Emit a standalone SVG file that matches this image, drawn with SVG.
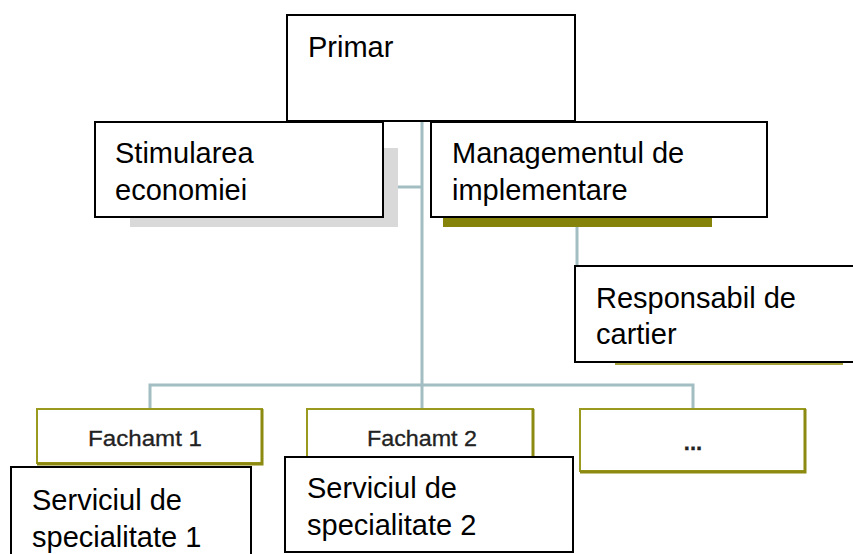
<svg xmlns="http://www.w3.org/2000/svg" width="853" height="554" viewBox="0 0 853 554">
<style>
.box{fill:#fff;stroke:#000;stroke-width:2}
.fbox{fill:#fff;stroke:#9a9a1e;stroke-width:2}
.fsh{stroke:#8c8a10;stroke-width:3;fill:none}
.conn{stroke:#a3bec2;stroke-width:3;fill:none}
.t{font-family:"Liberation Sans",Arial,sans-serif;font-size:29px;fill:#000}
.ft{font-family:"Liberation Sans",Arial,sans-serif;font-size:22px;fill:#222;stroke:#222;stroke-width:0.3}
</style>
<rect width="853" height="554" fill="#fff"/>
<g id="connectors">
<path class="conn" d="M422 121 V385"/>
<path class="conn" d="M398 187 H422"/>
<path class="conn" d="M577 227 V266"/>
<path class="conn" d="M150 408 V385 H693 V408"/>
<path class="conn" d="M422 385 V408"/>
</g>
<g id="primar">
<rect class="box" x="287" y="15" width="288" height="106"/>
<text class="t" x="308" y="57">Primar</text>
</g>
<g id="stimularea">
<rect x="130" y="148" width="268" height="79" fill="#d9d9d9"/>
<rect class="box" x="95" y="122" width="288" height="95"/>
<text class="t" x="115" y="163">Stimularea</text>
<text class="t" x="115" y="200">economiei</text>
</g>
<g id="management">
<rect x="443" y="217" width="269" height="10" fill="#86830a"/>
<rect class="box" x="431" y="122" width="336" height="95"/>
<text class="t" x="452" y="163">Managementul de</text>
<text class="t" x="452" y="200">implementare</text>
</g>
<g id="responsabil">
<rect x="615" y="362" width="228" height="3" fill="#a8a23a"/>
<rect class="box" x="575" y="266" width="300" height="96"/>
<text class="t" x="596" y="308">Responsabil de</text>
<text class="t" x="596" y="344">cartier</text>
</g>
<g id="fachamt1">
<rect class="fbox" x="37" y="409" width="225" height="54"/>
<path class="fsh" d="M262 409 V464 H37"/>
<text class="ft" x="88" y="446" textLength="114" lengthAdjust="spacingAndGlyphs">Fachamt 1</text>
</g>
<g id="fachamt2">
<rect class="fbox" x="307" y="409" width="226" height="54"/>
<path class="fsh" d="M533 409 V464"/>
<text class="ft" x="367" y="446" textLength="110" lengthAdjust="spacingAndGlyphs">Fachamt 2</text>
</g>
<g id="fachamt3">
<rect class="fbox" x="580" y="409" width="225" height="62"/>
<path class="fsh" d="M805 409 V472 H580"/>
<text class="ft" x="693" y="450" text-anchor="middle" font-size="16" font-weight="bold">...</text>
</g>
<g id="serviciul1">
<rect class="box" x="11" y="467" width="240" height="100"/>
<text class="t" x="32" y="510">Serviciul de</text>
<text class="t" x="32" y="547">specialitate 1</text>
</g>
<g id="serviciul2">
<rect class="box" x="285" y="457" width="288" height="95"/>
<text class="t" x="307" y="498">Serviciul de</text>
<text class="t" x="307" y="535">specialitate 2</text>
</g>
</svg>
